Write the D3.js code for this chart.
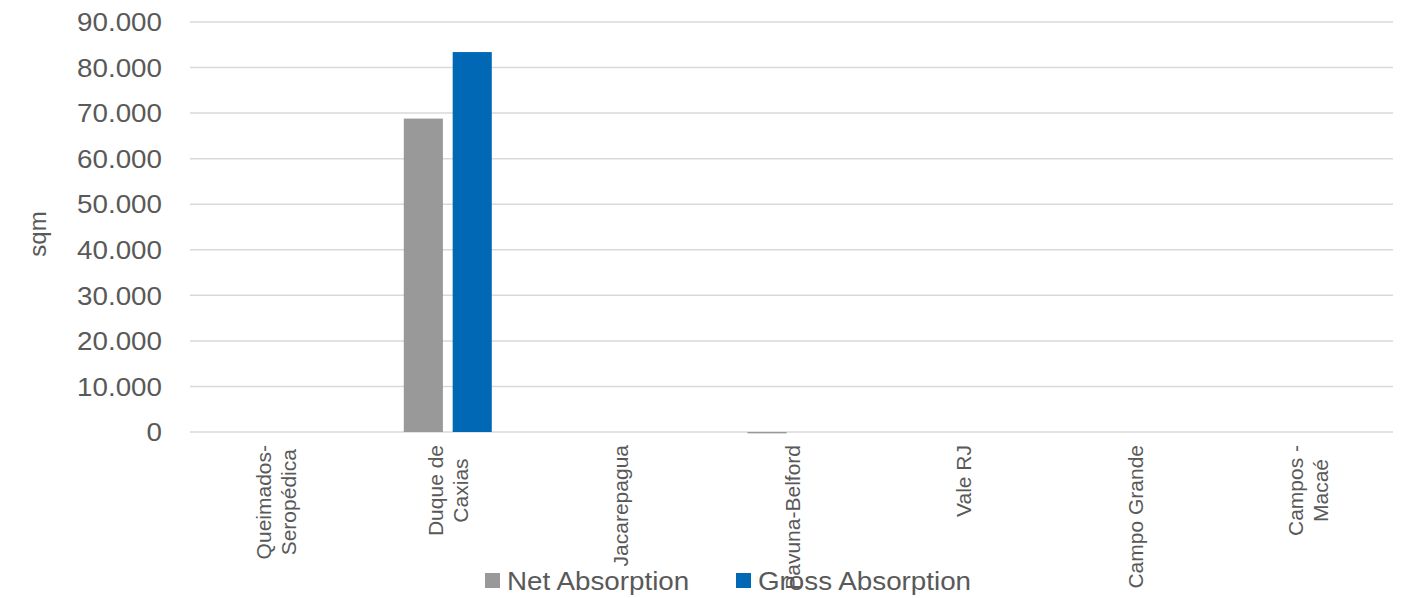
<!DOCTYPE html>
<html>
<head>
<meta charset="utf-8">
<script src="https://cdn.jsdelivr.net/npm/d3@7"></script>
<style>
  html, body { margin: 0; padding: 0; background: #ffffff; }
  svg { display: block; }
  text { font-family: "Liberation Sans", Arial, sans-serif; fill: #595959; }
</style>
</head>
<body>
<svg id="chart" width="1408" height="598"></svg>
<script>
// Submarkets (multi-line names split with "\n")
const categories = [
  "Queimados-\nSeropédica",
  "Duque de\nCaxias",
  "Jacarepagua",
  "Pavuna-Belford",
  "Vale RJ",
  "Campo Grande",
  "Campos -\nMacaé"
];
const seriesNames = ["Net Absorption", "Gross Absorption"];
const netAbsorption   = [0, 68800, 0, -300, 0, 0, 0];
const grossAbsorption = [0, 83400, 0, 0, 0, 0, 0];
const yTicks = [0, 10000, 20000, 30000, 40000, 50000, 60000, 70000, 80000, 90000];
const seriesColors = ["#999999", "#0068B5"];
const yTitle = "sqm";

const svg = d3.select("#chart");
const plot = { left: 190, right: 1393, top: 22, bottom: 432 };
const stretch = 1.09; // horizontal text widening

const ptLocale = d3.formatLocale({ decimal: ",", thousands: ".", grouping: [3], currency: ["", ""] });
const fmt = ptLocale.format(",");

const x0 = d3.scaleBand().domain(categories).range([plot.left, plot.right]).paddingInner(0).paddingOuter(0);
const y = d3.scaleLinear().domain([0, 90000]).range([plot.bottom, plot.top]);

// Gridlines
svg.append("g").selectAll("line").data(yTicks).join("line")
  .attr("x1", plot.left).attr("x2", plot.right)
  .attr("y1", d => y(d)).attr("y2", d => y(d))
  .attr("stroke", "#d9d9d9").attr("stroke-width", 1.5);

// Y tick labels
svg.append("g").selectAll("text").data(yTicks).join("text")
  .attr("transform", d => `translate(162,${y(d)}) scale(${stretch},1)`)
  .attr("text-anchor", "end")
  .attr("dy", "0.36em")
  .style("font-size", "25.5px")
  .text(d => fmt(d));

// Y title
svg.append("text")
  .attr("transform", "translate(37,234) rotate(-90)")
  .attr("text-anchor", "middle")
  .attr("dominant-baseline", "central")
  .style("font-size", "24px")
  .text(yTitle);

// Bars
const rows = categories.map((c, i) => ({ cat: c, vals: [netAbsorption[i], grossAbsorption[i]] }));
const groupHalf = 44;
rows.forEach(r => {
  const cx = x0(r.cat) + x0.bandwidth() / 2;
  const x1 = d3.scaleBand().domain(seriesNames).range([cx - groupHalf, cx + groupHalf]).paddingInner(0.2);
  svg.append("g").selectAll("rect").data(r.vals.map((v, k) => ({ v, s: seriesNames[k], k }))).join("rect")
    .attr("x", d => x1(d.s))
    .attr("width", x1.bandwidth())
    .attr("y", d => Math.min(y(d.v), y(0)))
    .attr("height", d => Math.abs(y(d.v) - y(0)))
    .attr("fill", d => seriesColors[d.k]);
});

// Category labels (rotated, lines centred, block top-aligned under the axis)
const labelTop = 445, lineH = 25;
categories.forEach(c => {
  const cx = x0(c) + x0.bandwidth() / 2;
  const lines = c.split("\n");
  const t = svg.append("text")
    .attr("text-anchor", "middle")
    .attr("dominant-baseline", "central")
    .style("font-size", "21px");
  lines.forEach((ln, i) => {
    t.append("tspan").attr("x", 0).attr("y", (i - (lines.length - 1) / 2) * lineH).text(ln);
  });
  let maxLen = 0;
  t.selectAll("tspan").each(function () { maxLen = Math.max(maxLen, this.getComputedTextLength()); });
  t.attr("transform", `translate(${cx},${labelTop + maxLen / 2}) rotate(-90)`);
});

// Legend
const legendItems = [
  { name: seriesNames[0], color: seriesColors[0], x: 485 },
  { name: seriesNames[1], color: seriesColors[1], x: 736 }
];
const lg = svg.append("g");
legendItems.forEach(it => {
  lg.append("rect").attr("x", it.x).attr("y", 573).attr("width", 15).attr("height", 15).attr("fill", it.color);
  lg.append("text")
    .attr("transform", `translate(${it.x + 22},590) scale(${stretch},1)`)
    .style("font-size", "25.5px")
    .text(it.name);
});
</script>
</body>
</html>
